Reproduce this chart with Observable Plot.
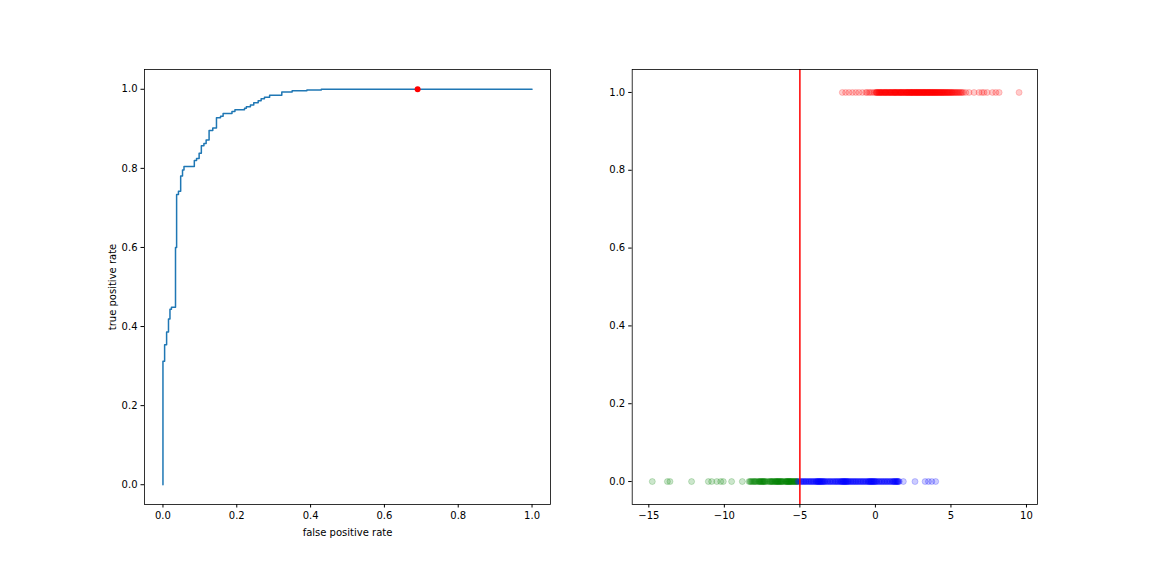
<!DOCTYPE html>
<html>
<head>
<meta charset="utf-8">
<script src="https://cdn.jsdelivr.net/npm/d3@7"></script>
<script src="https://cdn.jsdelivr.net/npm/@observablehq/plot@0.6"></script>
<style>
  html, body { margin: 0; padding: 0; background: white; }
  #wrap { display: flex; width: 1152px; height: 576px; }
  #wrap svg { display: block; flex: none; }
</style>
</head>
<body>
<div id="wrap"></div>
<script>
// ROC curve corner points (false positive rate, true positive rate)
const fpr = [0, 0, 0.0045, 0.0099, 0.015, 0.019, 0.023, 0.034, 0.037, 0.042, 0.048, 0.053, 0.057, 0.085, 0.091, 0.098, 0.104, 0.111, 0.117, 0.125, 0.135, 0.145, 0.156, 0.163, 0.187, 0.195, 0.221, 0.226, 0.237, 0.246, 0.258, 0.266, 0.275, 0.289, 0.322, 0.350, 0.390, 0.429, 1.0];
const tpr = [0, 0.312, 0.354, 0.386, 0.419, 0.444, 0.449, 0.600, 0.734, 0.742, 0.781, 0.796, 0.805, 0.820, 0.825, 0.838, 0.857, 0.863, 0.872, 0.896, 0.902, 0.928, 0.932, 0.939, 0.944, 0.948, 0.952, 0.956, 0.960, 0.966, 0.971, 0.976, 0.980, 0.985, 0.993, 0.996, 0.998, 1.0, 1.0];
// operating point on the ROC curve
const opFpr = [0.69];
const opTpr = [1.0];

// scores: positives (y = 1, red), negatives (y = 0, green and blue)
const redScores = [-2.19, -1.97, -1.75, -1.52, -1.3, -1.09, -0.86, -0.64, -0.55, -0.42, -0.33, -0.2, -0.08, 0.02, 0.09, 0.15, 0.21, 0.28, 0.33, 0.39, 0.44, 0.5, 0.57, 0.61, 0.68, 0.73, 0.79, 0.86, 0.9, 0.97, 1.03, 1.08, 1.14, 1.2, 1.26, 1.31, 1.37, 1.42, 1.49, 1.55, 1.6, 1.66, 1.71, 1.77, 1.83, 1.88, 1.95, 2.0, 2.06, 2.11, 2.17, 2.24, 2.29, 2.35, 2.4, 2.46, 2.51, 2.58, 2.63, 2.69, 2.74, 2.8, 2.86, 2.91, 2.97, 3.03, 3.08, 3.15, 3.2, 3.26, 3.31, 3.37, 3.44, 3.49, 3.55, 3.6, 3.67, 3.72, 3.78, 3.85, 3.9, 3.96, 4.03, 4.09, 4.15, 4.22, 4.28, 4.35, 4.41, 4.48, 4.55, 4.62, 4.7, 4.77, 4.85, 4.93, 5.02, 5.1, 5.2, 5.31, 5.42, 5.55, 5.68, 5.82, 5.98, 6.2, 6.53, 6.86, 7.05, 7.19, 7.4, 7.75, 7.97, 8.19, 9.51,
  0.05, 0.12, 0.24, 0.31, 0.42, 0.53, 0.65, 0.71, 0.83, 0.94, 1.01, 1.11, 1.22, 1.29, 1.35, 1.45, 1.52, 1.63, 1.69, 1.75, 1.86, 1.92, 2.03, 2.09, 2.14, 2.2, 2.27, 2.33, 2.38, 2.43, 2.49, 2.55, 2.61, 2.66, 2.72, 2.78, 2.83, 2.89, 2.94, 3.0, 3.06, 3.12, 3.18, 3.23, 3.29, 3.35, 3.41, 3.47, 3.52, 3.58, 3.64, 3.7, 3.76, 3.82, 3.88, 3.94, 4.0, 4.06, 4.12, 4.19, 4.25, 4.32, 4.39, 4.45, 4.52, 4.59, 4.66, 4.74, 4.81, 4.89, 4.97, 5.06, 5.15, 5.26, 5.37, 5.49, 5.61, 5.75];
const greenScores = [-14.77, -13.77, -13.6, -12.17, -11.06, -10.84, -10.5, -10.24, -10.07, -9.52, -8.81, -8.37, -8.25, -8.12, -8.0, -7.9, -7.82, -7.74, -7.66, -7.58, -7.5, -7.43, -7.35, -7.27, -7.18, -7.1, -7.02, -6.93, -6.85, -6.77, -6.7, -6.62, -6.55, -6.48, -6.42, -6.35, -6.27, -6.2, -6.12, -6.05, -5.97, -5.9, -5.84, -5.78, -5.72, -5.66, -5.6, -5.53, -5.45, -5.38, -5.3, -5.22, -5.15,
  -8.3, -8.18, -8.06, -7.95, -7.7, -7.62, -7.54, -7.46, -7.39, -7.31, -6.97, -6.89, -6.81, -6.66, -6.58, -6.51, -6.45, -6.38, -6.31, -6.24, -6.16, -5.94, -5.87, -5.81, -5.75, -5.69, -5.63, -5.57, -5.49, -5.41, -5.34, -5.26, -5.19];
const blueScores = [-5.12, -5.04, -4.96, -4.88, -4.8, -4.71, -4.63, -4.55, -4.47, -4.38, -4.3, -4.22, -4.14, -4.06, -3.98, -3.91, -3.84, -3.78, -3.72, -3.66, -3.6, -3.53, -3.46, -3.38, -3.3, -3.21, -3.12, -3.03, -2.95, -2.86, -2.77, -2.68, -2.6, -2.52, -2.44, -2.36, -2.28, -2.21, -2.14, -2.08, -2.02, -1.96, -1.89, -1.82, -1.75, -1.67, -1.59, -1.51, -1.43, -1.35, -1.27, -1.19, -1.1, -1.02, -0.93, -0.85, -0.77, -0.68, -0.6, -0.52, -0.45, -0.38, -0.31, -0.25, -0.19, -0.12, -0.05, 0.03, 0.11, 0.2, 0.29, 0.38, 0.47, 0.56, 0.65, 0.74, 0.83, 0.92, 1.01, 1.1, 1.18, 1.26, 1.33, 1.4, 1.47, 1.53, 1.58, 1.85, 2.62, 3.29, 3.51, 3.73, 3.99,
  -4.9, -4.75, -4.6, -4.42, -4.26, -4.1, -3.95, -3.87, -3.81, -3.75, -3.69, -3.63, -3.57, -3.5, -3.42, -3.34, -3.17, -2.99, -2.81, -2.64, -2.48, -2.32, -2.24, -2.17, -2.11, -2.05, -1.99, -1.93, -1.86, -1.78, -1.63, -1.47, -1.31, -1.15, -0.98, -0.81, -0.64, -0.48, -0.41, -0.34, -0.28, -0.22, -0.16, -0.09, -0.02, 0.07, 0.24, 0.42, 0.6, 0.78, 0.97, 1.14, 1.22, 1.3, 1.37, 1.43, 1.5];
const threshold = [-5];

// tick values
const rocTicks = [0, 0.2, 0.4, 0.6, 0.8, 1.0];
const scoreTicks = [-15, -10, -5, 0, 5, 10];
const labelTicks = [0, 0.2, 0.4, 0.6, 0.8, 1.0];

const roc = fpr.map((f, i) => ({fpr: f, tpr: tpr[i]}));
const op = opFpr.map((f, i) => ({fpr: f, tpr: opTpr[i]}));
const redPts = redScores.map(s => ({s, y: 1}));
const greenPts = greenScores.map(s => ({s, y: 0}));
const bluePts = blueScores.map(s => ({s, y: 0}));

const style = {fontFamily: "DejaVu Sans", fontSize: "10px", color: "black", background: "white", overflow: "visible"};
const f1 = d3.format(".1f");
const fd = d3.format("d");

const left = Plot.plot({
  width: 576, height: 576,
  marginLeft: 144, marginRight: 26, marginTop: 69, marginBottom: 72,
  style,
  x: {domain: [-0.05, 1.05]},
  y: {domain: [-0.05, 1.05]},
  marks: [
    Plot.axisX({ticks: rocTicks, tickFormat: f1, tickSize: 3.5, tickPadding: 3.5, label: "false positive rate", labelAnchor: "center", labelArrow: "none", labelOffset: 31}),
    Plot.axisY({ticks: rocTicks, tickFormat: f1, tickSize: 3.5, tickPadding: 3.5, label: "true positive rate", labelAnchor: "center", labelArrow: "none", labelOffset: 36}),
    Plot.line(roc, {x: "fpr", y: "tpr", curve: "step-after", stroke: "#1f77b4", strokeWidth: 1.5}),
    Plot.dot(op, {x: "fpr", y: "tpr", r: 3, fill: "red"}),
    Plot.frame({stroke: "black", strokeWidth: 0.8})
  ]
});

const dotOpts = (color) => ({x: "s", y: "y", r: 3, fill: color, fillOpacity: 0.2, stroke: color, strokeOpacity: 0.2, strokeWidth: 1});

const right = Plot.plot({
  width: 576, height: 576,
  marginLeft: 55.7, marginRight: 115, marginTop: 69, marginBottom: 72,
  style,
  x: {domain: [-16.1, 10.73]},
  y: {domain: [-0.059, 1.059]},
  marks: [
    Plot.axisX({ticks: scoreTicks, tickFormat: fd, tickSize: 3.5, tickPadding: 3.5, label: null}),
    Plot.axisY({ticks: labelTicks, tickFormat: f1, tickSize: 3.5, tickPadding: 3.5, label: null}),
    Plot.dot(redPts, dotOpts("red")),
    Plot.dot(greenPts, dotOpts("green")),
    Plot.dot(bluePts, dotOpts("blue")),
    Plot.ruleX(threshold, {stroke: "red", strokeWidth: 1.5}),
    Plot.frame({stroke: "black", strokeWidth: 0.8})
  ]
});

document.getElementById("wrap").append(left, right);
</script>
</body>
</html>
